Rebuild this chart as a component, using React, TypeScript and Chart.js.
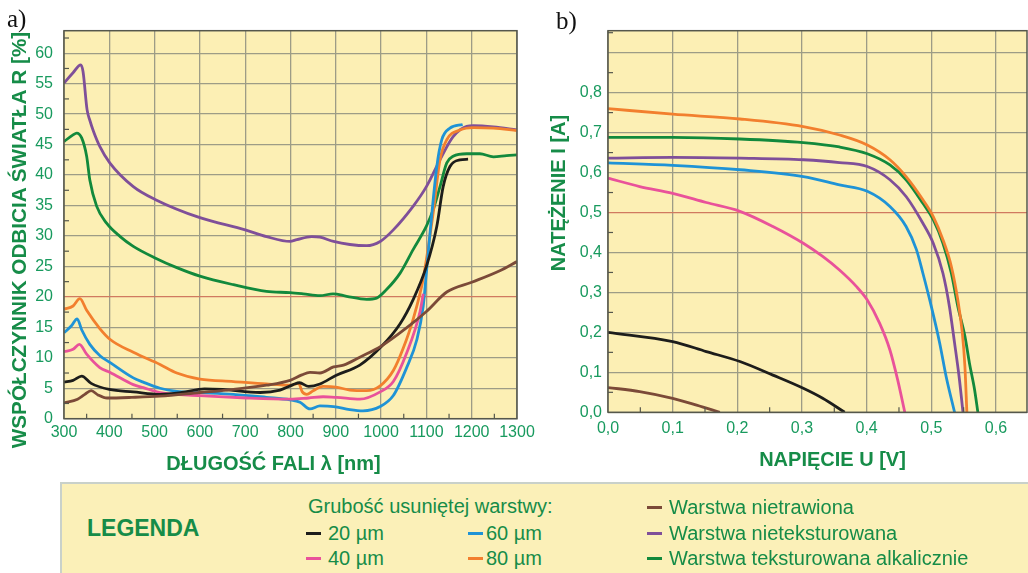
import React, { useEffect, useRef } from 'react';
import { Chart, registerables } from 'chart.js';

Chart.register(...registerables);

type Pt = [number, number];

// ---------- Panel a: wavelength [nm] -> reflectance R [%] ----------
const wavelengthTicks = [300, 400, 500, 600, 700, 800, 900, 1000, 1100, 1200, 1300];
const reflectanceTicks = [0, 5, 10, 15, 20, 25, 30, 35, 40, 45, 50, 55, 60];

const reflUntreated: Pt[] = [
  [300, 2.6], [330, 3.2], [346, 4.0], [360, 4.6], [375, 3.9], [395, 3.4], [450, 3.5], [512, 3.7],
  [600, 4.3], [660, 4.7], [747, 5.5], [799, 6.3], [825, 7.2], [843, 7.6], [865, 7.5], [895, 8.5],
  [917, 8.8], [953, 10.1], [1000, 11.9], [1056, 14.9], [1100, 17.6], [1145, 20.8], [1200, 22.4],
  [1262, 24.3], [1300, 25.8],
];
const reflNonTextured: Pt[] = [
  [300, 55.1], [320, 56.8], [337, 58.1], [342, 57.0], [351, 50.7], [357, 49.0], [365, 47.2], [379, 44.7],
  [401, 42.0], [453, 38.1], [501, 36.0], [600, 33.0], [700, 31.0], [747, 29.9], [799, 29.1], [814, 29.4],
  [847, 29.9], [865, 29.8], [895, 29.1], [931, 28.6], [968, 28.4], [998, 29.1], [1027, 31.0], [1071, 34.9],
  [1100, 38.1], [1130, 42.5], [1159, 46.3], [1189, 48.0], [1204, 48.1], [1248, 47.9], [1300, 47.4],
];
const reflTextured: Pt[] = [
  [300, 45.5], [320, 46.6], [328, 46.9], [339, 46.1], [350, 43.1], [357, 39.2], [372, 34.9], [394, 32.1],
  [424, 29.9], [453, 28.3], [501, 26.4], [549, 24.8], [600, 23.4], [674, 22.0], [747, 20.9], [799, 20.7],
  [828, 20.5], [865, 20.2], [894, 20.5], [924, 20.1], [968, 19.6], [990, 19.8], [1012, 21.2], [1042, 23.9],
  [1071, 27.8], [1100, 31.6], [1115, 34.3], [1130, 38.1], [1145, 42.0], [1159, 43.1], [1189, 43.5],
  [1218, 43.5], [1248, 43.0], [1277, 43.2], [1300, 43.3],
];
const refl20um: Pt[] = [
  [300, 6.0], [320, 6.3], [339, 7.0], [360, 5.8], [400, 4.8], [453, 4.4], [512, 4.0], [560, 4.3],
  [610, 4.9], [650, 4.8], [733, 4.3], [777, 4.7], [806, 5.6], [820, 5.9], [840, 5.3], [865, 5.7],
  [900, 7.1], [953, 8.8], [1000, 11.8], [1042, 15.6], [1071, 19.6], [1100, 25.0], [1123, 31.6],
  [1137, 38.1], [1152, 41.4], [1174, 42.5], [1192, 42.6],
];
const refl40um: Pt[] = [
  [300, 11.0], [320, 11.4], [334, 12.2], [350, 10.6], [379, 8.4], [402, 7.6], [453, 5.6], [475, 5.1],
  [512, 4.3], [600, 3.8], [703, 3.4], [799, 3.2], [840, 3.4], [872, 3.6], [902, 3.5], [953, 3.2],
  [998, 4.4], [1027, 6.1], [1056, 10.7], [1086, 17.6], [1093, 20.5],
];
const refl60um: Pt[] = [
  [300, 14.1], [317, 15.3], [329, 16.4], [339, 14.6], [357, 12.2], [380, 10.3], [402, 9.2], [453, 6.7],
  [475, 6.0], [512, 5.0], [549, 4.5], [600, 4.3], [674, 4.0], [747, 3.5], [799, 3.1], [821, 2.7],
  [843, 1.6], [865, 2.1], [895, 2.0], [931, 1.5], [960, 1.3], [998, 2.0], [1027, 3.8], [1056, 8.3],
  [1079, 13.0], [1093, 18.5], [1100, 24.0], [1108, 30.5], [1123, 41.4], [1134, 45.8], [1152, 47.7],
  [1180, 48.3],
];
const refl80um: Pt[] = [
  [300, 18.0], [320, 18.5], [335, 19.7], [350, 17.8], [379, 14.8], [402, 13.0], [453, 10.9], [512, 8.9],
  [549, 7.5], [600, 6.5], [674, 6.1], [747, 5.7], [800, 5.5], [818, 5.8], [826, 4.4], [836, 4.0],
  [850, 4.6], [872, 5.3], [900, 5.2], [931, 4.7], [968, 4.6], [998, 5.4], [1027, 7.9], [1049, 11.6],
  [1071, 16.4], [1093, 23.0], [1115, 33.8], [1130, 42.5], [1145, 45.8], [1174, 47.4], [1204, 47.8],
  [1248, 47.7], [1300, 47.3],
];

// ---------- Panel b: voltage U [V] -> current I [A] ----------
const voltageTicks = [0, 0.1, 0.2, 0.3, 0.4, 0.5, 0.6];
const currentTicks = [0, 0.1, 0.2, 0.3, 0.4, 0.5, 0.6, 0.7, 0.8, 0.9];
const currentLabelMax = 0.8;

const ivUntreated: Pt[] = [[0, 0.062], [0.049, 0.052], [0.1, 0.035], [0.137, 0.018], [0.173, 0]];
const ivNonTextured: Pt[] = [
  [0, 0.636], [0.1, 0.638], [0.204, 0.636], [0.302, 0.632], [0.358, 0.625], [0.401, 0.615], [0.436, 0.582],
  [0.461, 0.54], [0.487, 0.473], [0.503, 0.423], [0.518, 0.348], [0.528, 0.265], [0.536, 0.173],
  [0.543, 0.089], [0.549, 0],
];
const ivTextured: Pt[] = [
  [0, 0.688], [0.1, 0.688], [0.204, 0.684], [0.302, 0.675], [0.358, 0.664], [0.401, 0.647], [0.436, 0.619],
  [0.461, 0.582], [0.487, 0.523], [0.503, 0.482], [0.518, 0.423], [0.531, 0.348], [0.541, 0.265],
  [0.552, 0.19], [0.559, 0.123], [0.567, 0.056], [0.572, 0],
];
const iv20um: Pt[] = [
  [0, 0.2], [0.1, 0.177], [0.152, 0.152], [0.204, 0.127], [0.255, 0.093], [0.302, 0.06], [0.332, 0.035], [0.366, 0],
];
const iv40um: Pt[] = [
  [0, 0.586], [0.049, 0.565], [0.1, 0.548], [0.152, 0.525], [0.204, 0.503], [0.255, 0.465], [0.302, 0.423],
  [0.332, 0.39], [0.358, 0.356], [0.384, 0.315], [0.401, 0.281], [0.42, 0.223], [0.436, 0.156],
  [0.448, 0.081], [0.459, 0],
];
const iv60um: Pt[] = [
  [0, 0.624], [0.1, 0.618], [0.204, 0.607], [0.302, 0.59], [0.358, 0.569], [0.401, 0.553], [0.436, 0.515],
  [0.461, 0.465], [0.477, 0.407], [0.487, 0.348], [0.5, 0.265], [0.513, 0.173], [0.523, 0.089], [0.536, 0],
];
const iv80um: Pt[] = [
  [0, 0.76], [0.1, 0.746], [0.204, 0.734], [0.302, 0.715], [0.358, 0.694], [0.401, 0.669], [0.436, 0.632],
  [0.461, 0.59], [0.487, 0.532], [0.503, 0.49], [0.518, 0.432], [0.531, 0.365], [0.541, 0.281],
  [0.548, 0.198], [0.552, 0.114], [0.555, 0],
];

// ---------- styles ----------
const C = {
  black: '#1d1d1b',
  pink: '#e9529a',
  blue: '#1f93d6',
  orange: '#f27f2e',
  brown: '#7b4a38',
  purple: '#7f4f99',
  green: '#12893c',
};
const FONT = "'Liberation Sans', Arial, sans-serif";
const TICK_COLOR = '#189a5e';
const TITLE_COLOR = '#168c48';
const PLOT_BG = '#fcefb4';
const GRID = '#9d9c86';
const GRID_RED = '#d07a60';
const FRAME = '#55574c';

const framePlugin = {
  id: 'frame',
  beforeDraw(chart: any, _args: any, opts: any) {
    const { ctx, chartArea: a } = chart;
    ctx.save();
    ctx.fillStyle = opts.background;
    ctx.fillRect(a.left, a.top, a.right - a.left, a.bottom - a.top);
    ctx.restore();
  },
  afterDraw(chart: any, _args: any, opts: any) {
    const { ctx, chartArea: a, scales } = chart;
    ctx.save();
    ctx.strokeStyle = opts.tickColor;
    ctx.lineWidth = 1.2;
    const drawMinor = (scale: any, horizontal: boolean) => {
      const vals = scale.ticks.map((t: any) => t.value);
      const step = vals[1] - vals[0];
      for (let i = 0; i < vals.length; i++) {
        const v = vals[i] + step / 2;
        if (v >= scale.max) continue;
        const p = scale.getPixelForValue(v);
        ctx.beginPath();
        if (horizontal) {
          ctx.moveTo(p, a.bottom);
          ctx.lineTo(p, a.bottom - opts.tickLen);
        } else {
          ctx.moveTo(a.left, p);
          ctx.lineTo(a.left + opts.tickLen, p);
        }
        ctx.stroke();
      }
    };
    drawMinor(scales.x, true);
    drawMinor(scales.y, false);
    ctx.strokeStyle = opts.frameColor;
    ctx.lineWidth = 1.5;
    ctx.strokeRect(a.left, a.top, a.right - a.left, a.bottom - a.top);
    ctx.restore();
  },
};

const ds = (pts: Pt[], color: string) => ({
  data: pts.map(([x, y]) => ({ x, y })),
  borderColor: color,
  backgroundColor: color,
  borderWidth: 2.8,
  pointRadius: 0,
  fill: false,
  cubicInterpolationMode: 'monotone' as const,
});

const gridColor = (red: number) => (ctx: any) =>
  ctx.tick && Math.abs(ctx.tick.value - red) < 1e-6 ? GRID_RED : GRID;

function makeConfig(
  datasets: any[],
  x: { min: number; max: number; ticks: number[]; fmt: (v: number) => string; pad: number; height: number },
  y: { min: number; max: number; ticks: number[]; fmt: (v: number) => string; pad: number; width: number; red: number },
  padding: any
): any {
  return {
    type: 'line',
    data: { datasets },
    plugins: [framePlugin],
    options: {
      animation: false,
      responsive: false,
      maintainAspectRatio: false,
      layout: { padding },
      plugins: {
        legend: { display: false },
        tooltip: { enabled: false },
        frame: { background: PLOT_BG, tickColor: FRAME, frameColor: FRAME, tickLen: 5 },
      },
      scales: {
        x: {
          type: 'linear',
          min: x.min,
          max: x.max,
          afterBuildTicks: (s: any) => {
            s.ticks = x.ticks.map((v) => ({ value: v }));
          },
          afterFit: (s: any) => {
            s.height = x.height;
          },
          ticks: {
            autoSkip: false,
            maxRotation: 0,
            minRotation: 0,
            includeBounds: false,
            padding: x.pad,
            color: TICK_COLOR,
            font: { family: FONT, size: 16 },
            callback: (v: any) => x.fmt(Number(v)),
          },
          grid: { color: GRID, lineWidth: 1.3, drawTicks: false },
          border: { display: false },
        },
        y: {
          type: 'linear',
          min: y.min,
          max: y.max,
          afterBuildTicks: (s: any) => {
            s.ticks = y.ticks.map((v) => ({ value: v }));
          },
          afterFit: (s: any) => {
            s.width = y.width;
          },
          ticks: {
            autoSkip: false,
            includeBounds: false,
            padding: y.pad,
            color: TICK_COLOR,
            font: { family: FONT, size: 16 },
            callback: (v: any) => y.fmt(Number(v)),
          },
          grid: { color: gridColor(y.red), lineWidth: 1.3, drawTicks: false },
          border: { display: false },
        },
      },
    },
  };
}

const abs = (left: number, top: number, extra: React.CSSProperties = {}): React.CSSProperties => ({
  position: 'absolute',
  left,
  top,
  whiteSpace: 'nowrap',
  ...extra,
});

const titleStyle: React.CSSProperties = {
  fontFamily: FONT,
  fontWeight: 'bold',
  fontSize: 20,
  color: TITLE_COLOR,
  lineHeight: 1,
};

const legendText: React.CSSProperties = {
  fontFamily: FONT,
  fontSize: 20,
  color: TITLE_COLOR,
  lineHeight: 1,
};

const panelLabel: React.CSSProperties = {
  fontFamily: "'Liberation Serif', 'Times New Roman', serif",
  fontSize: 25,
  lineHeight: 1,
  color: '#111',
};

function LegendItem({ left, top, color, label, textLeft }: { left: number; top: number; color: string; label: string; textLeft: number }) {
  return (
    <>
      <div style={abs(left, top - 1.5, { width: 15, height: 3, background: color })} />
      <div style={abs(textLeft, top, { ...legendText, transform: 'translateY(-50%)' })}>{label}</div>
    </>
  );
}

export default function App() {
  const refA = useRef<HTMLCanvasElement>(null);
  const refB = useRef<HTMLCanvasElement>(null);

  useEffect(() => {
    const fmtInt = (v: number) => String(Math.round(v));
    const fmtComma = (v: number) => v.toFixed(1).replace('.', ',');
    const chartA = new Chart(
      refA.current as HTMLCanvasElement,
      makeConfig(
        [
          ds(reflUntreated, C.brown),
          ds(refl20um, C.black),
          ds(refl40um, C.pink),
          ds(refl60um, C.blue),
          ds(refl80um, C.orange),
          ds(reflNonTextured, C.purple),
          ds(reflTextured, C.green),
        ],
        { min: 300, max: 1300, ticks: wavelengthTicks, fmt: fmtInt, pad: 4, height: 61.3 },
        { min: 0, max: 63.7, ticks: reflectanceTicks, fmt: fmtInt, pad: 11, width: 64, red: 20 },
        { top: 30.7, right: 23, left: 0, bottom: 0 }
      )
    );
    const chartB = new Chart(
      refB.current as HTMLCanvasElement,
      makeConfig(
        [
          ds(ivUntreated, C.brown),
          ds(iv20um, C.black),
          ds(iv40um, C.pink),
          ds(iv60um, C.blue),
          ds(ivNonTextured, C.purple),
          ds(iv80um, C.orange),
          ds(ivTextured, C.green),
        ],
        { min: 0, max: 0.648, ticks: voltageTicks, fmt: fmtComma, pad: 7, height: 67.7 },
        {
          min: 0,
          max: 0.955,
          ticks: currentTicks,
          fmt: (v: number) => (v > currentLabelMax + 1e-6 ? '' : fmtComma(v)),
          pad: 6,
          width: 68,
          red: 0.5,
        },
        { top: 30.7, right: 1, left: 0, bottom: 0 }
      )
    );
    return () => {
      chartA.destroy();
      chartB.destroy();
    };
  }, []);

  return (
    <div style={{ position: 'absolute', left: 0, top: 0, width: 1028, height: 573, overflow: 'hidden', background: '#fff' }}>
      <canvas ref={refA} width={540} height={480} style={abs(0, 0, { width: 540, height: 480 })} />
      <canvas ref={refB} width={488} height={480} style={abs(540, 0, { width: 488, height: 480 })} />

      <div style={abs(7, 6, panelLabel)}>a)</div>
      <div style={abs(556, 8, panelLabel)}>b)</div>

      <div style={abs(19, 240, { ...titleStyle, fontSize: 20.7, transform: 'translate(-50%, -50%) rotate(-90deg)' })}>
        WSPÓŁCZYNNIK ODBICIA ŚWIATŁA R [%]
      </div>
      <div style={abs(273.5, 463, { ...titleStyle, transform: 'translate(-50%, -50%)' })}>DŁUGOŚĆ FALI λ [nm]</div>
      <div style={abs(557.5, 193, { ...titleStyle, transform: 'translate(-50%, -50%) rotate(-90deg)' })}>NATĘŻENIE I [A]</div>
      <div style={abs(832.5, 459, { ...titleStyle, transform: 'translate(-50%, -50%)' })}>NAPIĘCIE U [V]</div>

      <div
        style={abs(60, 482, {
          width: 968,
          height: 91,
          background: '#fbf0b8',
          borderTop: '2px solid #c9d1ca',
          borderLeft: '2px solid #c9d1ca',
          boxSizing: 'border-box',
        })}
      />
      <div style={abs(87, 527.5, { ...titleStyle, fontSize: 23, transform: 'translateY(-50%)' })}>LEGENDA</div>
      <div style={abs(308, 506, { ...legendText, transform: 'translateY(-50%)' })}>Grubość usuniętej warstwy:</div>
      <LegendItem left={306} top={533} color={C.black} label="20 µm" textLeft={328} />
      <LegendItem left={306} top={558} color={C.pink} label="40 µm" textLeft={328} />
      <LegendItem left={468} top={533} color={C.blue} label="60 µm" textLeft={486} />
      <LegendItem left={468} top={558} color={C.orange} label="80 µm" textLeft={486} />
      <LegendItem left={647} top={507} color={C.brown} label="Warstwa nietrawiona" textLeft={669} />
      <LegendItem left={647} top={533} color={C.purple} label="Warstwa nieteksturowana" textLeft={669} />
      <LegendItem left={647} top={558} color={C.green} label="Warstwa teksturowana alkalicznie" textLeft={669} />
    </div>
  );
}
